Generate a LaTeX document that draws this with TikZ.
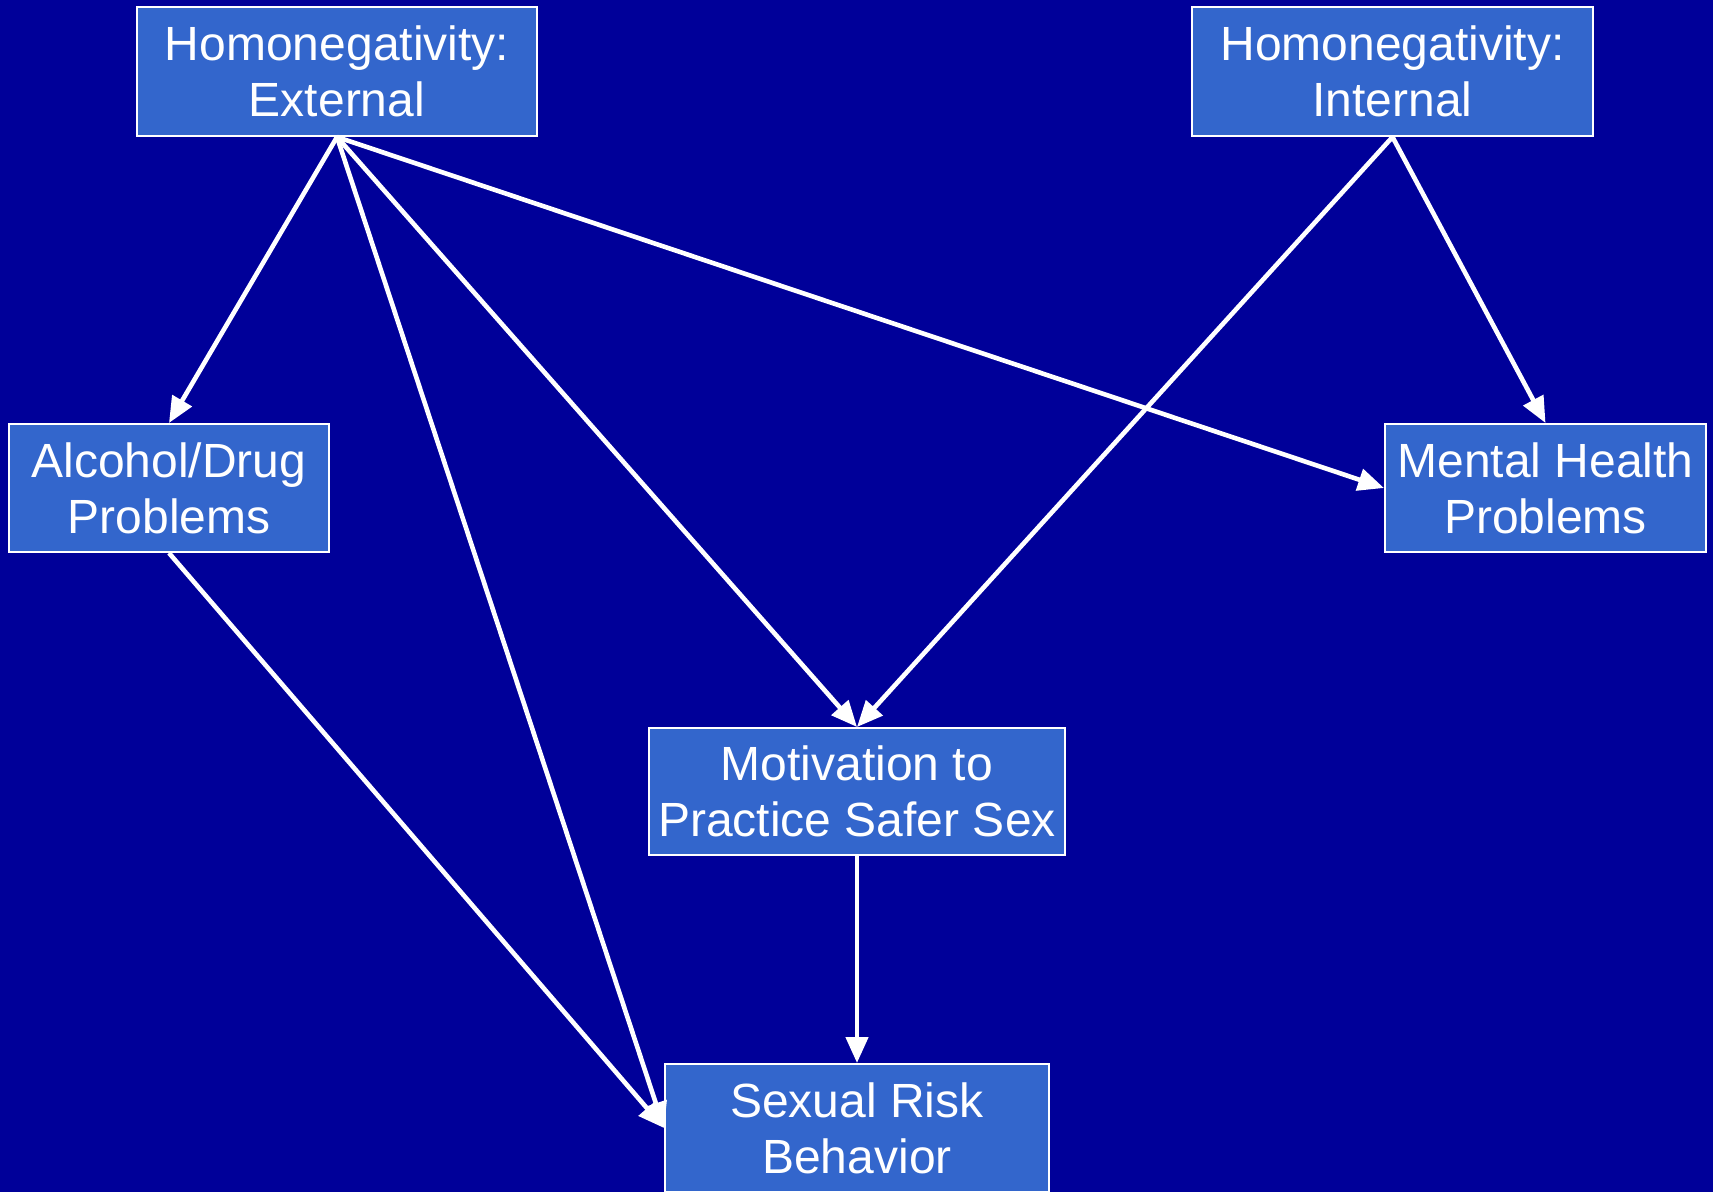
\documentclass[tikz,border=0pt]{standalone}
\usepackage{fontspec}
\setmainfont{Liberation Sans}
\usetikzlibrary{arrows.meta}
\definecolor{bgblue}{RGB}{0,0,153}
\definecolor{boxblue}{RGB}{51,102,204}
\tikzset{
  box/.style={draw=white, line width=1pt, fill=boxblue, text=white, align=center,
    inner sep=0pt, font=\fontsize{24}{28}\selectfont},
  arr/.style={draw=white, line width=2.3pt, -{Triangle[length=13pt,width=11pt]}}
}
\begin{document}
\begin{tikzpicture}[x=0.5pt,y=-0.5pt]
\fill[bgblue] (0,0) rectangle (1713,1192);
\useasboundingbox (0,0) rectangle (1713,1192);
\node[box, minimum width=200pt, minimum height=64.5pt] (he) at (337,71.5) {Homonegativity:\\External};
\node[box, minimum width=200.5pt, minimum height=64.5pt] (hi) at (1392.5,71.5) {Homonegativity:\\Internal};
\node[box, minimum width=160pt, minimum height=64pt] (ad) at (169,488) {Alcohol/Drug\\Problems};
\node[box, minimum width=160.5pt, minimum height=64pt] (mh) at (1545.5,488) {Mental Health\\Problems};
\node[box, minimum width=208pt, minimum height=63.5pt] (mo) at (857,791.5) {Motivation to\\Practice Safer Sex};
\node[box, minimum width=192pt, minimum height=64pt] (sr) at (857,1128) {Sexual Risk\\Behavior};
\draw[arr] (he.south) -- (ad.north);
\draw[arr] (he.south) -- (sr.west);
\draw[arr] (he.south) -- (mo.north);
\draw[arr] (he.south) -- (mh.west);
\draw[arr] (hi.south) -- (mo.north);
\draw[arr] (hi.south) -- (mh.north);
\draw[arr] (ad.south) -- (sr.west);
\draw[arr] (mo.south) -- (sr.north);
\end{tikzpicture}
\end{document}
